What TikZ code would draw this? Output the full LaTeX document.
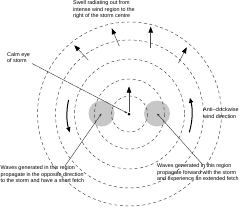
\documentclass[tikz,border=0pt]{standalone}
\usepackage{fontspec}
\setmainfont{Liberation Sans}
\usetikzlibrary{arrows.meta}
\begin{document}
\begin{tikzpicture}[x=1pt,y=-1pt,
  ring/.style={draw=black!75, line width=0.45pt, dash pattern=on 3pt off 2.6pt},
  zone/.style={circle, fill=black!22, minimum size=26pt, inner sep=0pt},
  swell/.style={draw=black!70, line width=0.5pt, -{Triangle[length=6pt,width=4.5pt,color=black]}},
  wind/.style={draw=black, line width=1pt, -{Triangle[length=5pt,width=4pt]}},
  callout/.style={draw=black!80, line width=0.4pt, -{Stealth[length=3pt,width=2.2pt]}},
  lbl/.style={font=\fontsize{5.4}{6.4}\selectfont, align=left, inner sep=0pt, anchor=north west},
]
\useasboundingbox (0,0) rectangle (243,207);
\coordinate (C) at (129.5,114);
\node[zone] (gl) at (101.5,113.5) {};
\node[zone] (gr) at (157,113.5) {};
\foreach \r in {18,35,55,74,92} \draw[ring] (C) circle[radius=\r];
\node[circle, fill=black, inner sep=0pt, minimum size=3pt] (eye) at (129,114) {};
% swell arrows
\coordinate (s0) at (129,86.5);
\draw[swell] (eye) -- (s0);
\coordinate (a1) at (88.3,60);   \coordinate (b1) at (74.3,45.3);
\coordinate (a2) at (119.3,46);  \coordinate (b2) at (111.7,28.3);
\coordinate (a3) at (150.7,48.3);\coordinate (b3) at (150.7,26.7);
\coordinate (a4) at (178.3,63.3);\coordinate (b4) at (186.7,47.3);
\draw[swell] (a1) -- (b1);
\draw[swell] (a2) -- (b2);
\draw[swell] (a3) -- (b3);
\draw[swell] (a4) -- (b4);
% wind arcs
\draw[wind] (C) ++(-167:62.5) arc[start angle=-167,end angle=-197,radius=62.5];
\draw[wind] (C) ++(17:62.5) arc[start angle=17,end angle=-15,radius=62.5];
% labels
\node[lbl] (swelltxt) at (73,0.5) {Swell radiating out from\\intense wind region to the\\right of the storm centre};
\node[lbl] (calm) at (7,52) {Calm eye\\of storm};
\node[lbl] (anti) at (203,107.5) {Anti--clockwise\\wind direction};
\node[lbl] (wl) at (0.5,165.5) {Waves generated in this region\\propagate in the opposite direction\\to the storm and have a short fetch};
\node[lbl] (wr) at (157,163.5) {Waves generated in this region\\propagate forward with the storm\\and experience an extended fetch};
% callouts
\coordinate (wlp) at (65,166);
\coordinate (wrp) at (203,165);
\coordinate (calmp) at (32,63.5);
\draw[callout] (wlp) -- (gl.center);
\draw[callout] (wrp) -- (gr.center);
\draw[callout] (calmp) -- (eye);
\end{tikzpicture}
\end{document}
